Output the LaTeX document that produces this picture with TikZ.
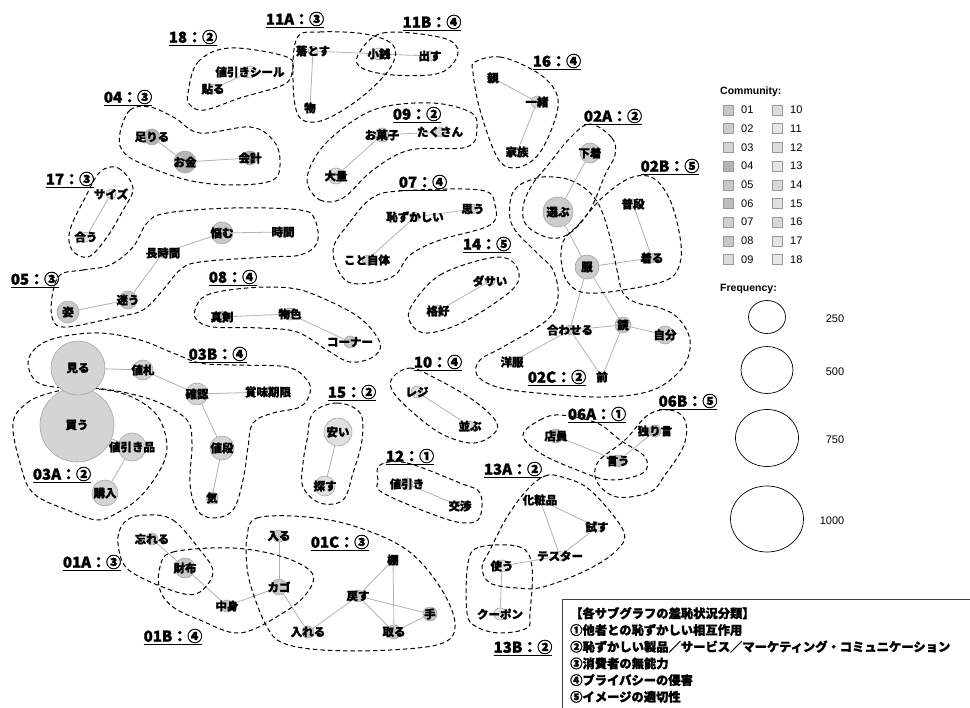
\documentclass[tikz,border=0pt]{standalone}
\usepackage{fontspec}
\setmainfont{Liberation Sans}
\newfontfamily\jp{Noto Sans CJK JP}[BoldFeatures={FakeBold=1.5}]
\usetikzlibrary{shapes.geometric}
\pgfdeclarelayer{bg}
\pgfsetlayers{bg,main}
\definecolor{c01}{HTML}{C8C8C8}\definecolor{c02}{HTML}{CCCCCC}\definecolor{c03}{HTML}{D4D4D4}
\definecolor{c04}{HTML}{B4B4B4}\definecolor{c05}{HTML}{C8C8C8}\definecolor{c06}{HTML}{BEBEBE}
\definecolor{c07}{HTML}{D0D0D0}\definecolor{c08}{HTML}{C8C8C8}\definecolor{c09}{HTML}{DCDCDC}
\definecolor{c10}{HTML}{DCDCDC}\definecolor{c11}{HTML}{E6E6E6}\definecolor{c12}{HTML}{DCDCDC}
\definecolor{c13}{HTML}{E6E6E6}\definecolor{c14}{HTML}{D8D8D8}\definecolor{c15}{HTML}{E0E0E0}
\definecolor{c16}{HTML}{D8D8D8}\definecolor{c17}{HTML}{E4E4E4}\definecolor{c18}{HTML}{E8E8E8}
\tikzset{
 wc/.style={circle, draw=black!35, fill=#1, inner sep=0pt, line width=0.6pt},
 wt/.style={font=\jp\bfseries\fontsize{11.5}{12}\selectfont, inner sep=0pt},
 edge/.style={draw=black!30, line width=0.8pt},
 hull/.style={draw=black, line width=1pt, dash pattern=on 4.5pt off 3pt},
 clab/.style={font=\jp\bfseries\fontsize{15}{16}\selectfont, inner sep=0pt},
 lsq/.style={draw=black!40, minimum size=10pt, inner sep=0pt, line width=0.5pt},
 ltx/.style={font=\fontsize{11}{12}\selectfont, anchor=west, inner sep=0pt},
 fel/.style={draw=black, ellipse, line width=0.7pt, inner sep=0pt},
}
\newcommand\W[6]{\node[wc=#5, minimum size={2*#4 pt}] (#1) at (#2,#3) {};
 \node[wt] (#1t) at (#1) {#6};}
\newcommand\CL[4]{\node[clab] (#1) at (#2,#3) {\underline{#4}};}
\begin{document}
\begin{tikzpicture}[x=1pt,y=-1pt]
\useasboundingbox (0,0) rectangle (970,708);
\begin{pgfonlayer}{bg}
\fill[white] (0,0) rectangle (970,708);
\end{pgfonlayer}
% hulls
\draw[hull] plot[smooth cycle, tension=0.6] coordinates {(188,93)(198,62)(230,48)(287,57)(292,72)(283,85)(240,98)(205,110)(190,105)};
\draw[hull] plot[smooth cycle, tension=0.6] coordinates {(120,133)(130,110)(150,107)(175,118)(200,133)(250,127)(273,140)(280,160)(273,180)(233,185)(187,180)(140,163)(122,150)};
\draw[hull] plot[smooth cycle, tension=0.6] coordinates {(100,172)(118,168)(133,188)(122,212)(105,240)(88,257)(72,250)(70,230)(85,198)};
\draw[hull] plot[smooth cycle, tension=0.6] coordinates {(297,38)(320,32)(365,34)(393,45)(392,65)(370,90)(340,112)(315,122)(298,115)(293,80)};
\draw[hull] plot[smooth cycle, tension=0.6] coordinates {(358,55)(383,33)(443,38)(458,53)(440,73)(393,75)(362,68)};
\draw[hull] plot[smooth cycle, tension=0.6] coordinates {(475,62)(500,57)(533,70)(553,87)(558,107)(547,140)(533,160)(513,168)(497,157)(480,110)(473,73)};
\draw[hull] plot[smooth cycle, tension=0.6] coordinates {(307,180)(320,200)(343,198)(373,170)(410,150)(467,147)(477,127)(470,112)(433,103)(383,107)(350,123)(320,150)};
\draw[hull] plot[smooth cycle, tension=0.6] coordinates {(333,250)(350,222)(372,198)(400,191)(480,190)(495,205)(490,225)(440,240)(410,255)(395,275)(370,283)(345,280)};
\draw[hull] plot[smooth cycle, tension=0.6] coordinates {(412,305)(440,275)(490,258)(513,262)(518,282)(495,303)(457,325)(425,333)(410,322)};
\draw[hull] plot[smooth cycle, tension=0.6] coordinates {(590,124)(612,138)(615,155)(605,175)(590,210)(570,233)(550,238)(527,226)(523,207)(532,185)(548,165)(570,138)};
\draw[hull] plot[smooth cycle, tension=0.6] coordinates {(563,242)(580,223)(603,197)(630,178)(653,178)(670,200)(680,237)(680,263)(667,280)(623,290)(587,293)(570,285)(562,267)};
\draw[hull] plot[smooth cycle, tension=0.6] coordinates {(553,177)(570,180)(587,190)(600,207)(610,237)(617,270)(623,293)(637,303)(657,307)(677,317)(690,340)(683,367)(653,390)(603,397)(537,393)(497,387)(477,375)(480,360)(503,347)(547,320)(558,297)(553,270)(537,253)(513,227)(510,203)(517,187)(537,178)};
\draw[hull] plot[smooth cycle, tension=0.6] coordinates {(523,435)(540,420)(560,415)(597,423)(620,440)(645,457)(643,473)(610,480)(577,470)(540,453)};
\draw[hull] plot[smooth cycle, tension=0.6] coordinates {(648,415)(670,410)(685,420)(684,445)(665,475)(650,492)(617,497)(597,482)(598,462)(625,440)};
\draw[hull] plot[smooth cycle, tension=0.6] coordinates {(527,490)(545,476)(562,477)(590,490)(623,530)(617,550)(587,570)(543,587)(517,588)(490,583)(482,567)(490,550)(507,517)};
\draw[hull] plot[smooth cycle, tension=0.6] coordinates {(468,563)(480,547)(520,547)(532,567)(530,613)(527,628)(500,633)(477,627)(467,613)};
\draw[hull] plot[smooth cycle, tension=0.6] coordinates {(380,465)(407,463)(460,483)(480,493)(480,517)(467,523)(440,517)(383,493)(378,480)};
\draw[hull] plot[smooth cycle, tension=0.6] coordinates {(247,537)(257,518)(307,517)(357,527)(407,550)(440,587)(455,623)(443,643)(390,650)(323,650)(283,643)(267,627)(253,593)(247,567)};
\draw[hull] plot[smooth cycle, tension=0.6] coordinates {(147,515)(173,520)(200,550)(213,572)(200,592)(180,593)(140,577)(123,563)(118,537)(127,520)};
\draw[hull] plot[smooth cycle, tension=0.6] coordinates {(160,567)(173,552)(233,548)(283,557)(312,573)(307,593)(283,613)(240,633)(200,620)(173,607)(160,590)};
\draw[hull] plot[smooth cycle, tension=0.6] coordinates {(13,423)(27,403)(50,393)(80,388)(117,392)(143,403)(160,420)(167,447)(160,470)(140,497)(117,513)(97,520)(67,510)(33,493)(20,463)};
\draw[hull] plot[smooth cycle, tension=0.6] coordinates {(28,363)(37,347)(60,337)(100,333)(140,340)(173,353)(200,363)(233,365)(287,367)(307,380)(310,393)(300,407)(273,413)(253,423)(248,447)(243,480)(233,510)(213,518)(197,510)(190,483)(192,443)(187,420)(160,403)(127,393)(93,388)(63,388)(37,382)};
\draw[hull] plot[smooth cycle, tension=0.6] coordinates {(313,413)(337,403)(360,413)(362,440)(353,473)(343,500)(320,503)(303,487)(303,463)(307,440)};
\draw[hull] plot[smooth cycle, tension=0.6] coordinates {(393,377)(410,368)(433,377)(473,400)(497,423)(490,437)(470,443)(440,433)(410,410)(392,390)};
\draw[hull] plot[smooth cycle, tension=0.6] coordinates {(195,310)(207,295)(247,288)(290,288)(320,297)(360,318)(380,343)(373,357)(350,362)(327,350)(297,332)(260,328)(213,327)(197,320)};
\draw[hull] plot[smooth cycle, tension=0.6] coordinates {(60,275)(83,270)(110,265)(133,247)(147,223)(167,213)(233,208)(300,210)(315,220)(317,243)(300,255)(267,257)(200,262)(180,270)(163,290)(143,310)(117,317)(67,327)(53,320)(52,297)};
% word nodes
\W{n18a}{250}{72}{6}{c18}{値引きシール}
\W{n18b}{213}{89}{5}{c18}{貼る}
\W{n04a}{152}{137}{8}{c04}{足りる}
\W{n04b}{185}{162}{11}{c04}{お金}
\W{n04c}{250}{158}{7}{c04}{会計}
\W{n17a}{111}{194}{5}{c17}{サイズ}
\W{n17b}{86}{237}{5}{c17}{合う}
\W{n11a}{313}{51}{5}{c11}{落とす}
\W{n11b}{310}{108}{5}{c11}{物}
\W{n11c}{379}{54}{6}{c11}{小銭}
\W{n11d}{430}{56}{5}{c11}{出す}
\W{n16a}{493}{78}{5}{c16}{親}
\W{n16b}{537}{102}{6}{c16}{一緒}
\W{n16c}{517}{152}{5}{c16}{家族}
\W{n09a}{382}{135}{7}{c09}{お菓子}
\W{n09b}{440}{132}{5}{c09}{たくさん}
\W{n09c}{336}{176}{8}{c09}{大量}
\W{n07a}{415}{217}{5}{c07}{恥ずかしい}
\W{n07b}{473}{209}{5}{c07}{思う}
\W{n07c}{367}{260}{5}{c07}{こと自体}
\W{n02a}{590}{153}{10}{c02}{下着}
\W{n02b}{558}{212}{15}{c02}{選ぶ}
\W{n02c}{587}{267}{12}{c02}{服}
\W{n02d}{633}{204}{5}{c02}{普段}
\W{n02e}{652}{258}{5}{c02}{着る}
\W{n02f}{570}{330}{5}{c02}{合わせる}
\W{n02g}{623}{325}{8}{c02}{鏡}
\W{n02h}{665}{335}{9}{c02}{自分}
\W{n02i}{512}{362}{5}{c02}{洋服}
\W{n02j}{602}{377}{5}{c02}{前}
\W{n06a}{556}{436}{7}{c06}{店員}
\W{n06b}{618}{461}{6}{c06}{言う}
\W{n06c}{655}{431}{6}{c06}{独り言}
\W{n13a}{540}{500}{5}{c13}{化粧品}
\W{n13b}{597}{527}{5}{c13}{試す}
\W{n13c}{560}{556}{5}{c13}{テスター}
\W{n13d}{502}{566}{6}{c13}{使う}
\W{n13e}{500}{614}{6}{c13}{クーポン}
\W{n12a}{407}{484}{6}{c12}{値引き}
\W{n12b}{460}{506}{5}{c12}{交渉}
\W{n01a}{279}{536}{6}{c01}{入る}
\W{n01b}{279}{587}{8}{c01}{カゴ}
\W{n01c}{308}{632}{6}{c01}{入れる}
\W{n01d}{358}{596}{6}{c01}{戻す}
\W{n01e}{393}{560}{5}{c01}{棚}
\W{n01f}{430}{614}{7}{c01}{手}
\W{n01g}{394}{632}{7}{c01}{取る}
\W{n01h}{152}{539}{6}{c01}{忘れる}
\W{n01i}{185}{568}{10}{c01}{財布}
\W{n01j}{227}{606}{6}{c01}{中身}
\W{n03a}{77}{425}{37}{c03}{買う}
\W{n03b}{132}{447}{14}{c03}{値引き品}
\W{n03c}{105}{493}{13}{c03}{購入}
\W{n03d}{78}{368}{27}{c03}{見る}
\W{n03e}{143}{370}{10}{c03}{値札}
\W{n03f}{197}{394}{11}{c03}{確認}
\W{n03g}{268}{392}{5}{c03}{賞味期限}
\W{n03h}{222}{448}{12}{c03}{値段}
\W{n03i}{212}{498}{6}{c03}{気}
\W{n05a}{222}{233}{11}{c05}{悩む}
\W{n05b}{283}{232}{5}{c05}{時間}
\W{n05c}{163}{253}{5}{c05}{長時間}
\W{n05d}{128}{300}{9}{c05}{迷う}
\W{n05e}{68}{312}{11}{c05}{姿}
\W{n08a}{222}{317}{6}{c08}{真剣}
\W{n08b}{290}{314}{6}{c08}{物色}
\W{n08c}{350}{342}{6}{c08}{コーナー}
\W{n14a}{490}{281}{5}{c14}{ダサい}
\W{n14b}{438}{311}{6}{c14}{格好}
\W{n10a}{417}{392}{6}{c10}{レジ}
\W{n10b}{470}{426}{5}{c10}{並ぶ}
\W{n15a}{338}{432}{14}{c15}{安い}
\W{n15b}{325}{486}{10}{c15}{探す}
% edges
\begin{pgfonlayer}{bg}
\foreach \a/\b in {n18a/n18b,n04a/n04b,n04b/n04c,n17a/n17b,n11a/n11c,n11c/n11d,n11a/n11b,
 n16a/n16b,n16b/n16c,n09a/n09b,n09a/n09c,n07a/n07b,n07a/n07c,n02a/n02b,n02b/n02c,n02c/n02e,
 n02d/n02e,n02c/n02f,n02c/n02g,n02f/n02g,n02g/n02h,n02f/n02i,n02f/n02j,n02g/n02j,n06a/n06b,
 n06b/n06c,n13a/n13b,n13a/n13c,n13b/n13c,n13c/n13d,n13d/n13e,n12a/n12b,n01a/n01b,n01b/n01c,
 n01c/n01d,n01d/n01e,n01e/n01g,n01d/n01g,n01d/n01f,n01g/n01f,n01b/n01j,n01h/n01i,n01i/n01j,
 n03a/n03b,n03b/n03c,n03d/n03e,n03e/n03f,n03f/n03g,n03f/n03h,n03h/n03i,n05a/n05b,n05a/n05c,
 n05c/n05d,n05d/n05e,n08a/n08b,n08b/n08c,n14a/n14b,n10a/n10b,n15a/n15b}
 \draw[edge] (\a) -- (\b);
\end{pgfonlayer}
% community labels
\CL{l18}{193}{38}{18：②}
\CL{l11a}{295}{20}{11A：③}
\CL{l11b}{432}{23}{11B：④}
\CL{l16}{557}{62}{16：④}
\CL{l04}{128}{98}{04：③}
\CL{l09}{417}{115}{09：②}
\CL{l02a}{613}{117}{02A：②}
\CL{l02b}{670}{167}{02B：⑤}
\CL{l17}{70}{180}{17：③}
\CL{l07}{423}{183}{07：④}
\CL{l14}{487}{245}{14：⑤}
\CL{l05}{35}{280}{05：③}
\CL{l08}{233}{278}{08：④}
\CL{l03b}{218}{355}{03B：④}
\CL{l10}{438}{363}{10：④}
\CL{l15}{352}{393}{15：②}
\CL{l02c}{557}{378}{02C：②}
\CL{l06a}{597}{415}{06A：①}
\CL{l06b}{688}{402}{06B：⑤}
\CL{l03a}{62}{475}{03A：②}
\CL{l12}{410}{457}{12：①}
\CL{l13a}{513}{470}{13A：②}
\CL{l01c}{340}{543}{01C：③}
\CL{l01a}{92}{563}{01A：③}
\CL{l01b}{173}{637}{01B：④}
\CL{l13b}{523}{648}{13B：②}
% legend: community
\node[font=\bfseries\fontsize{10.5}{12}\selectfont, anchor=west, inner sep=0pt] (lcom) at (720,92) {Community:};
\foreach \n [count=\i from 0] in {01,02,03,04,05,06,07,08,09} {
 \node[lsq, fill=c\n] (sq\n) at (728,110+\i*18.7) {};
 \node[ltx] (tx\n) at (741,110+\i*18.7) {\n};
}
\foreach \n [count=\i from 0] in {10,11,12,13,14,15,16,17,18} {
 \node[lsq, fill=c\n] (sq\n) at (777,110+\i*18.7) {};
 \node[ltx] (tx\n) at (790,110+\i*18.7) {\n};
}
% legend: frequency
\node[font=\bfseries\fontsize{10.5}{12}\selectfont, anchor=west, inner sep=0pt] (lfreq) at (720,289) {Frequency:};
\node[fel, minimum width=37pt, minimum height=33pt] (f250) at (767,317) {};
\node[fel, minimum width=52pt, minimum height=47pt] (f500) at (767,370) {};
\node[fel, minimum width=63pt, minimum height=57pt] (f750) at (767,438) {};
\node[fel, minimum width=73pt, minimum height=66pt] (f1000) at (767,519) {};
\node[font=\fontsize{11}{12}\selectfont, inner sep=0pt] (t250) at (835,319) {250};
\node[font=\fontsize{11}{12}\selectfont, inner sep=0pt] (t500) at (835,372) {500};
\node[font=\fontsize{11}{12}\selectfont, inner sep=0pt] (t750) at (835,440) {750};
\node[font=\fontsize{11}{12}\selectfont, inner sep=0pt] (t1000) at (832,521) {1000};
% classification box
\draw[black!75, line width=1pt] (562,715) -- (562,599) -- (975,599);
\node[anchor=north west, align=left, inner sep=0pt, font=\jp\bfseries\fontsize{12.3}{16.7}\selectfont] (box) at (570,607) {【各サブグラフの羞恥状況分類】\\①他者との恥ずかしい相互作用\\②恥ずかしい製品／サービス／マーケティング・コミュニケーション\\③消費者の無能力\\④プライバシーの侵害\\⑤イメージの適切性};
\end{tikzpicture}
\end{document}
